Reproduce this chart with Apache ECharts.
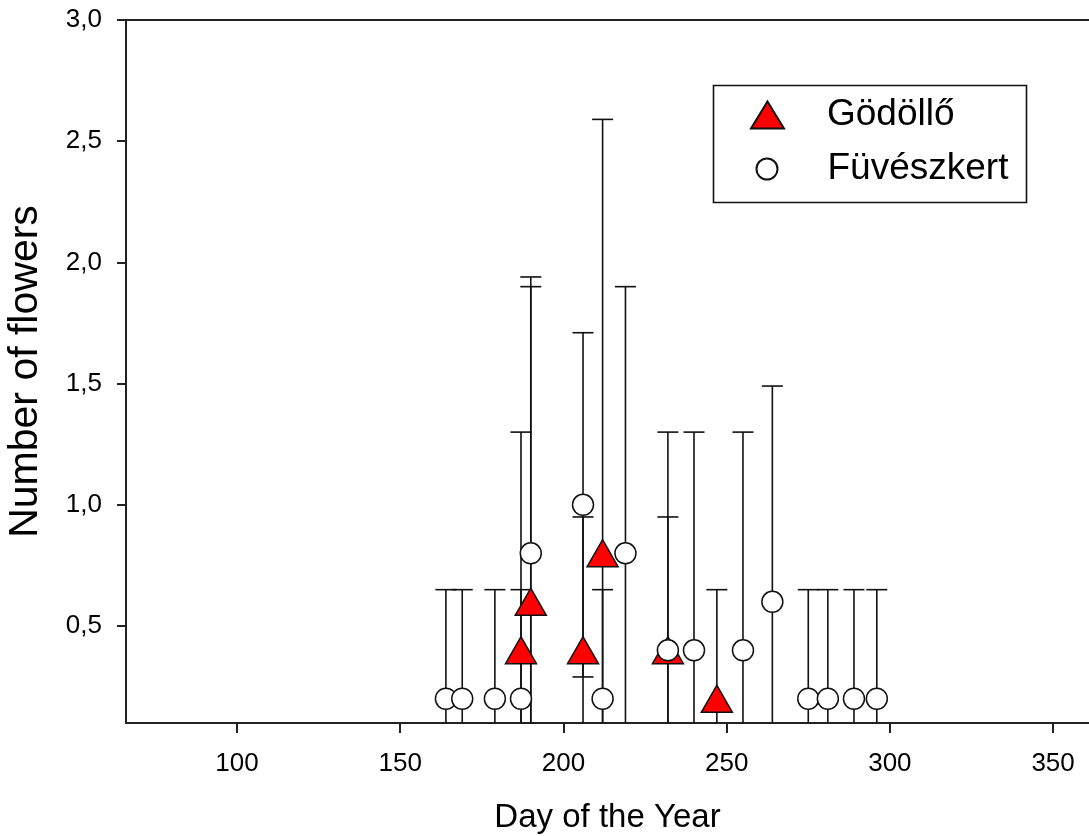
<!DOCTYPE html>
<html>
<head>
<meta charset="utf-8">
<script src="https://cdn.jsdelivr.net/npm/echarts@6/dist/echarts.min.js"></script>
<style>html,body{margin:0;padding:0;background:#fff}#c{width:1089px;height:836px}</style>
</head>
<body>
<div id="c"></div>
<script>
// Gödöllő (red triangles): day, mean, SD
const gDays  = [187, 190, 206, 212, 232, 247];
const gMeans = [0.4, 0.6, 0.4, 0.8, 0.4, 0.2];
const gErr   = [0.9, 1.34, 0.55, 1.79, 0.55, 0.45];
// Füvészkert (white circles): day, mean, SD
const fDays  = [164, 169, 179, 187, 190, 206, 212, 219, 232, 240, 255, 264, 275, 281, 289, 296];
const fMeans = [0.2, 0.2, 0.2, 0.2, 0.8, 1.0, 0.2, 0.8, 0.4, 0.4, 0.4, 0.6, 0.2, 0.2, 0.2, 0.2];
const fErr   = [0.45, 0.45, 0.45, 0.45, 1.1, 0.71, 0.45, 1.1, 0.9, 0.9, 0.9, 0.89, 0.45, 0.45, 0.45, 0.45];
const xTicks = [100, 150, 200, 250, 300, 350];
const yTicks = [0.5, 1.0, 1.5, 2.0, 2.5, 3.0];

const FONT = "'Liberation Sans', Arial, sans-serif";
const gData = gDays.map((d, i) => [d, gMeans[i], gErr[i]]);
const fData = fDays.map((d, i) => [d, fMeans[i], fErr[i]]);

function renderErr(params, api) {
  const x = api.value(0), m = api.value(1), e = api.value(2);
  const top = api.coord([x, m + e]);
  const bot = api.coord([x, m - e]);
  const hw = 10.5;
  const st = { stroke: '#111', lineWidth: 1.6 };
  return {
    type: 'group',
    children: [
      { type: 'line', shape: { x1: top[0], y1: top[1], x2: bot[0], y2: bot[1] }, style: st },
      { type: 'line', shape: { x1: top[0] - hw, y1: top[1], x2: top[0] + hw, y2: top[1] }, style: st },
      { type: 'line', shape: { x1: bot[0] - hw, y1: bot[1], x2: bot[0] + hw, y2: bot[1] }, style: st }
    ]
  };
}

const chart = echarts.init(document.getElementById('c'), null, { renderer: 'canvas' });
chart.setOption({
  animation: false,
  backgroundColor: '#fff',
  textStyle: { fontFamily: FONT },
  grid: { left: 126, top: 20, right: 0, bottom: 113, outerBoundsMode: 'none', containLabel: false },
  xAxis: [{
    type: 'value', min: 66, max: 361,
    name: 'Day of the Year', nameLocation: 'middle', nameGap: 78,
    nameTextStyle: { fontSize: 33, color: '#000', fontFamily: FONT },
    axisLine: { show: true, lineStyle: { color: '#222', width: 2 } },
    axisTick: { show: true, inside: false, length: 10, customValues: xTicks, lineStyle: { color: '#222', width: 2 } },
    axisLabel: { customValues: xTicks, fontSize: 26, color: '#000', margin: 28, fontFamily: FONT },
    splitLine: { show: false }
  }, {
    type: 'value', min: 66, max: 361, position: 'top',
    axisLine: { show: true, lineStyle: { color: '#222', width: 2 } },
    axisTick: { show: false }, axisLabel: { show: false }, splitLine: { show: false }
  }],
  yAxis: {
    type: 'value', min: 0.1, max: 3.0,
    name: 'Number of flowers', nameLocation: 'middle', nameGap: 80, nameRotate: 90,
    nameTextStyle: { fontSize: 41, color: '#000', fontFamily: FONT },
    axisLine: { show: true, lineStyle: { color: '#222', width: 2 } },
    axisTick: { show: true, inside: false, length: 9, customValues: yTicks, lineStyle: { color: '#222', width: 2 } },
    axisLabel: {
      customValues: yTicks, fontSize: 26, color: '#000', margin: 24, fontFamily: FONT,
      formatter: v => v.toFixed(1).replace('.', ',')
    },
    splitLine: { show: false }
  },
  legend: [{
    data: [{ name: 'Gödöllő', icon: 'triangle' }],
    left: 750, top: 95, padding: 0,
    itemWidth: 33, itemHeight: 27, symbolKeepAspect: false,
    textStyle: { fontSize: 37, lineHeight: 40, color: '#000', fontFamily: FONT, padding: [0, 0, 0, 38] },
    selectedMode: false
  }, {
    data: [{ name: 'Füvészkert', icon: 'circle' }],
    left: 755.5, top: 149, padding: 0,
    itemWidth: 21, itemHeight: 21,
    textStyle: { fontSize: 37, lineHeight: 40, color: '#000', fontFamily: FONT, padding: [0, 0, 0, 45] },
    selectedMode: false
  }],
  graphic: [{
    type: 'rect', left: 711, top: 83,
    shape: { width: 313, height: 117 },
    style: { fill: 'none', stroke: '#111', lineWidth: 1.6 },
    z: 100
  }],
  series: [{
    type: 'custom', name: 'Gödöllő SD', clip: true, z: 1,
    renderItem: renderErr, data: gData, encode: { x: 0, y: 1 }, silent: true
  }, {
    type: 'custom', name: 'Füvészkert SD', clip: true, z: 1,
    renderItem: renderErr, data: fData, encode: { x: 0, y: 1 }, silent: true
  }, {
    type: 'scatter', name: 'Gödöllő', z: 3,
    symbol: 'triangle', symbolSize: [31, 27],
    itemStyle: { color: '#ff0000', borderColor: '#111', borderWidth: 1.5, opacity: 1 },
    data: gData.map(d => [d[0], d[1]])
  }, {
    type: 'scatter', name: 'Füvészkert', z: 4,
    symbol: 'circle', symbolSize: 21,
    itemStyle: { color: '#ffffff', borderColor: '#111', borderWidth: 1.5, opacity: 1 },
    data: fData.map(d => [d[0], d[1]])
  }]
});
</script>
</body>
</html>
